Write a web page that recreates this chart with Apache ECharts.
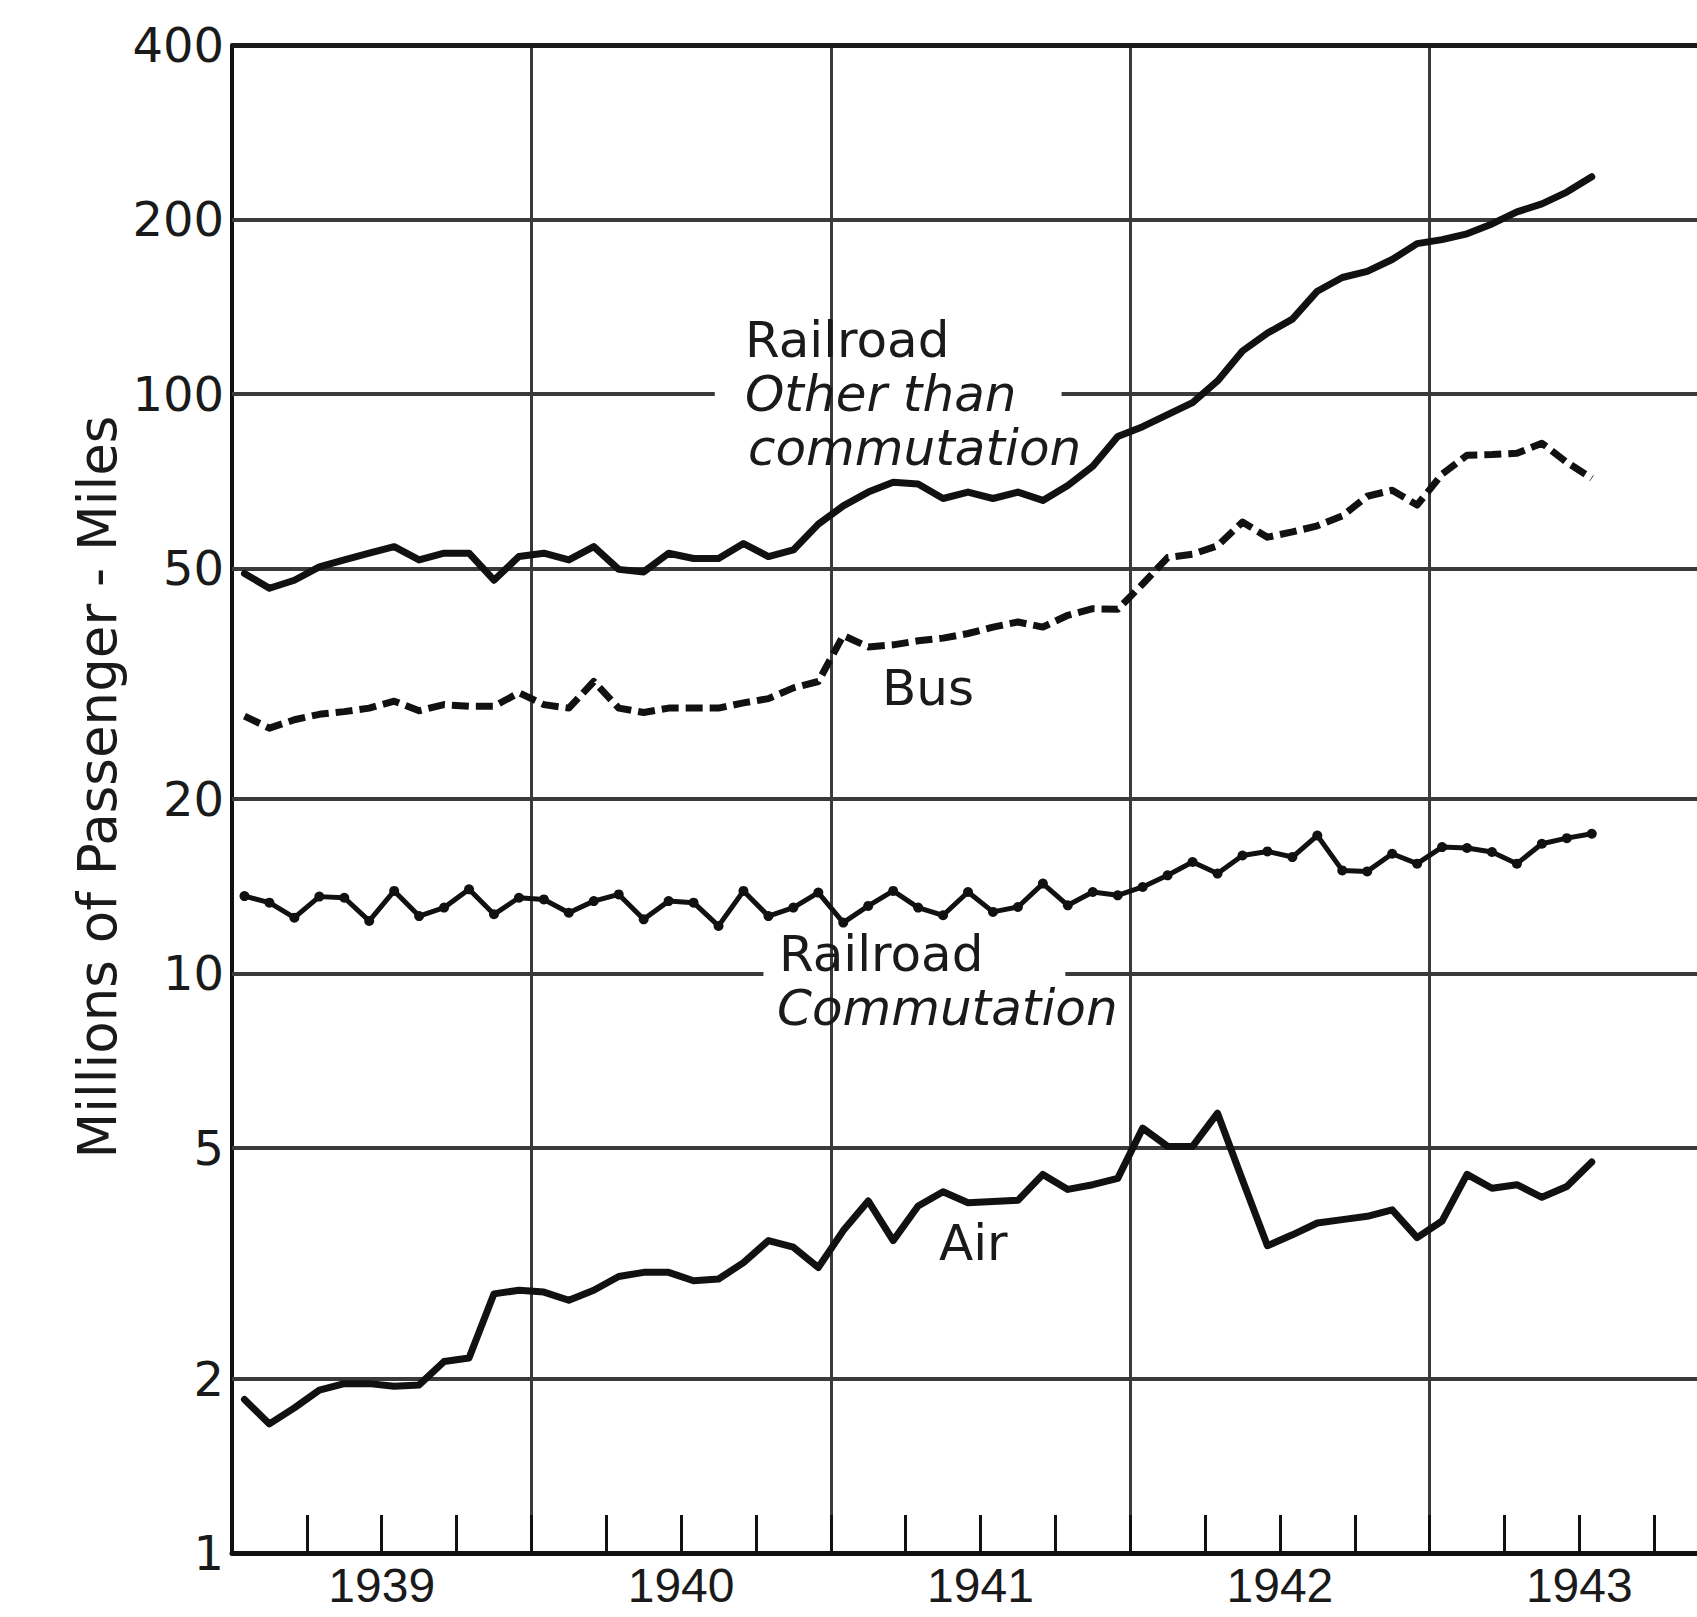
<!DOCTYPE html>
<html>
<head>
<meta charset="utf-8">
<script src="https://cdn.jsdelivr.net/npm/echarts@6/dist/echarts.min.js"></script>
<style>
html,body{margin:0;padding:0;background:#ffffff;}
#chart{width:1697px;height:1617px;}
</style>
</head>
<body>
<div id="chart"></div>
<script>
// ---- categories ----
const years = ['1939', '1940', '1941', '1942', '1943'];
const monthNames = ['Jan','Feb','Mar','Apr','May','Jun','Jul','Aug','Sep','Oct','Nov','Dec'];

// ---- series values (millions of passenger-miles, monthly Jan 1939 - Jul 1943) ----
const railroadOther = [49.0, 46.2, 47.7, 50.3, 51.7, 53.1, 54.5, 51.7, 53.1, 53.1, 47.7, 52.4,
  53.1, 51.7, 54.5, 49.8, 49.3, 53.1, 52.0, 52.0, 55.2, 52.4, 53.8, 59.6,
  64.1, 67.7, 70.4, 69.9, 66.0, 67.7, 66.0, 67.7, 65.5, 69.5, 75.0, 84.4,
  87.8, 92.1, 96.6, 105.3, 118.6, 127.3, 134.6, 150.4, 158.8, 162.7, 170.6, 181.7,
  184.6, 188.9, 196.5, 206.1, 212.8, 223.0, 237.0];

const bus = [27.8, 26.5, 27.4, 28.0, 28.3, 28.7, 29.5, 28.4, 29.1, 28.9, 28.9, 30.5,
  29.1, 28.7, 31.9, 28.7, 28.2, 28.7, 28.7, 28.7, 29.3, 29.8, 31.1, 31.9,
  38.3, 36.6, 36.9, 37.5, 37.9, 38.6, 39.6, 40.4, 39.6, 41.5, 42.6, 42.5,
  47.0, 52.2, 52.9, 54.7, 60.1, 56.6, 57.8, 59.2, 61.6, 66.6, 68.2, 64.3,
  72.7, 78.4, 78.6, 79.0, 82.2, 76.2, 71.5];

const railroadCommutation = [13.6, 13.25, 12.48, 13.57, 13.51, 12.32, 13.88, 12.56, 12.99, 13.97, 12.65, 13.51,
  13.42, 12.73, 13.33, 13.69, 12.40, 13.33, 13.25, 12.08, 13.88, 12.56, 12.99, 13.79,
  12.24, 13.08, 13.88, 12.99, 12.6, 13.82, 12.77, 13.02, 14.29, 13.11, 13.82, 13.64,
  14.10, 14.77, 15.57, 14.87, 15.98, 16.24, 15.88, 17.30, 15.06, 15.00, 16.09, 15.47,
  16.52, 16.46, 16.20, 15.47, 16.74, 17.12, 17.42];

const air = [1.84, 1.67, 1.78, 1.91, 1.96, 1.96, 1.94, 1.95, 2.14, 2.17, 2.80, 2.84,
  2.82, 2.73, 2.84, 3.00, 3.05, 3.05, 2.95, 2.97, 3.17, 3.46, 3.37, 3.11,
  3.60, 4.05, 3.46, 3.97, 4.20, 4.02, 4.04, 4.06, 4.50, 4.24, 4.32, 4.43,
  5.41, 5.03, 5.03, 5.74, 4.40, 3.39, 3.54, 3.71, 3.76, 3.81, 3.91, 3.50,
  3.74, 4.50, 4.26, 4.32, 4.11, 4.29, 4.73];

// ---- tick labels ----
const yTickValues = [1, 2, 5, 10, 20, 50, 100, 200, 400];
const yTickLabels = ['1', '2', '5', '10', '20', '50', '100', '200', '400'];
const yearLabels = years;

// month periods (category list), plotted at mid-month on a month-index axis
const periods = [];
years.forEach(y => monthNames.forEach(m => periods.push(m + ' ' + y)));
function toPoints(values) {
  return values.map((v, i) => [i + 0.5, v, periods[i]]);
}

const INK = '#111111';
const GRID_INK = '#3a3a3a';
const TEXT_FONT = "'DejaVu Sans', 'Noto Sans', sans-serif";

// horizontal grid lines, labelled at their left end (log scale values)
const gridLineData = [];
yTickValues.forEach((v, k) => {
  const lbl = { show: true, formatter: yTickLabels[k] };
  if (v === 100) {
    gridLineData.push([{ coord: [0, v], label: lbl }, { coord: [19.35, v] }]);
    gridLineData.push([{ coord: [33.25, v], label: { show: false } }, { coord: [60, v] }]);
  } else if (v === 10) {
    gridLineData.push([{ coord: [0, v], label: lbl }, { coord: [21.3, v] }]);
    gridLineData.push([{ coord: [33.4, v], label: { show: false } }, { coord: [60, v] }]);
  } else if (v === 400) {
    gridLineData.push({ yAxis: v, label: lbl, lineStyle: { width: 5, color: '#1a1a1a' } });
  } else if (v === 1) {
    gridLineData.push({ yAxis: v, label: lbl, lineStyle: { color: 'rgba(0,0,0,0)', width: 1 } });
  } else {
    gridLineData.push({ yAxis: v, label: lbl });
  }
});

const chart = echarts.init(document.getElementById('chart'), null, { renderer: 'svg' });

const option = {
  backgroundColor: '#ffffff',
  animation: false,
  grid: { left: 232, top: 45, width: 1497, height: 1508, containLabel: false, outerBoundsMode: 'none' },
  xAxis: [
    { // year grid lines + axis line
      type: 'value', min: 0, max: 60, interval: 12, position: 'bottom',
      axisLine: { show: true, onZero: false, lineStyle: { color: INK, width: 5 } },
      axisTick: { show: false },
      axisLabel: { show: false },
      splitLine: { show: true, lineStyle: { color: GRID_INK, width: 3 } }
    },
    { // year labels at mid-year
      type: 'value', min: 0, max: 60, interval: 6, position: 'bottom',
      axisLine: { show: false, onZero: false },
      axisTick: { show: false },
      splitLine: { show: false },
      axisLabel: {
        show: true, margin: 9, fontSize: 48, lineHeight: 46, color: '#1a1a1a',
        fontFamily: "'Liberation Sans Narrow', 'Liberation Sans', sans-serif",
        formatter: function (v) {
          const k = (v - 6) / 12;
          return (Number.isInteger(k) && k >= 0 && k < yearLabels.length) ? yearLabels[k] : '';
        }
      }
    },
    { // quarter ticks
      type: 'value', min: 0, max: 60, interval: 3, position: 'bottom',
      axisLine: { show: false, onZero: false },
      axisTick: { show: true, inside: true, length: 38, lineStyle: { color: INK, width: 3 } },
      axisLabel: { show: false },
      splitLine: { show: false }
    }
  ],
  yAxis: {
    type: 'log', logBase: 10, min: 1, max: 400,
    axisLine: { show: true, onZero: false, lineStyle: { color: INK, width: 4 } },
    axisTick: { show: false },
    axisLabel: { show: false },
    splitLine: { show: false }
  },
  series: [
    {
      name: 'grid', type: 'line', data: [], z: 1, silent: true,
      markLine: {
        silent: true, symbol: ['none', 'none'], animation: false,
        lineStyle: { type: 'solid', color: GRID_INK, width: 4 },
        label: {
          show: true, position: 'start', distance: 8,
          fontSize: 48, fontFamily: TEXT_FONT, color: '#1a1a1a'
        },
        emphasis: { disabled: true },
        data: gridLineData
      }
    },
    {
      name: 'Railroad — Other than commutation', type: 'line', z: 5,
      data: toPoints(railroadOther), symbol: 'none',
      lineStyle: { color: INK, width: 7, cap: 'round', join: 'round' }
    },
    {
      name: 'Bus', type: 'line', z: 5,
      data: toPoints(bus), symbol: 'none',
      lineStyle: { color: INK, width: 7, type: [17, 7], cap: 'butt', join: 'round' }
    },
    {
      name: 'Railroad — Commutation', type: 'line', z: 5,
      data: toPoints(railroadCommutation), symbol: 'circle', symbolSize: 10, showSymbol: true,
      itemStyle: { color: INK, borderWidth: 0 },
      lineStyle: { color: INK, width: 5, cap: 'round', join: 'round' }
    },
    {
      name: 'Air', type: 'line', z: 5,
      data: toPoints(air), symbol: 'none',
      lineStyle: { color: INK, width: 7, cap: 'round', join: 'round' }
    }
  ],
  graphic: [
    { type: 'text', x: 97, y: 787, rotation: Math.PI / 2, z: 10,
      style: { text: 'Millions of Passenger - Miles', font: "53px " + TEXT_FONT, fill: '#1a1a1a', textAlign: 'center', textVerticalAlign: 'middle' } },
    { type: 'text', x: 745, y: 340, z: 10,
      style: { text: 'Railroad', font: "50px " + TEXT_FONT, fill: '#1a1a1a', textAlign: 'left', textVerticalAlign: 'middle' } },
    { type: 'text', x: 745, y: 394, z: 10,
      style: { text: 'Other than', font: "italic 50px " + TEXT_FONT, fill: '#1a1a1a', textAlign: 'left', textVerticalAlign: 'middle' } },
    { type: 'text', x: 748, y: 448, z: 10,
      style: { text: 'commutation', font: "italic 50px " + TEXT_FONT, fill: '#1a1a1a', textAlign: 'left', textVerticalAlign: 'middle' } },
    { type: 'text', x: 882, y: 688, z: 10,
      style: { text: 'Bus', font: "50px " + TEXT_FONT, fill: '#1a1a1a', textAlign: 'left', textVerticalAlign: 'middle' } },
    { type: 'text', x: 779, y: 954, z: 10,
      style: { text: 'Railroad', font: "50px " + TEXT_FONT, fill: '#1a1a1a', textAlign: 'left', textVerticalAlign: 'middle' } },
    { type: 'text', x: 777, y: 1008, z: 10,
      style: { text: 'Commutation', font: "italic 50px " + TEXT_FONT, fill: '#1a1a1a', textAlign: 'left', textVerticalAlign: 'middle' } },
    { type: 'text', x: 939, y: 1243, z: 10,
      style: { text: 'Air', font: "50px " + TEXT_FONT, fill: '#1a1a1a', textAlign: 'left', textVerticalAlign: 'middle' } }
  ]
};

chart.setOption(option);
</script>
</body>
</html>
